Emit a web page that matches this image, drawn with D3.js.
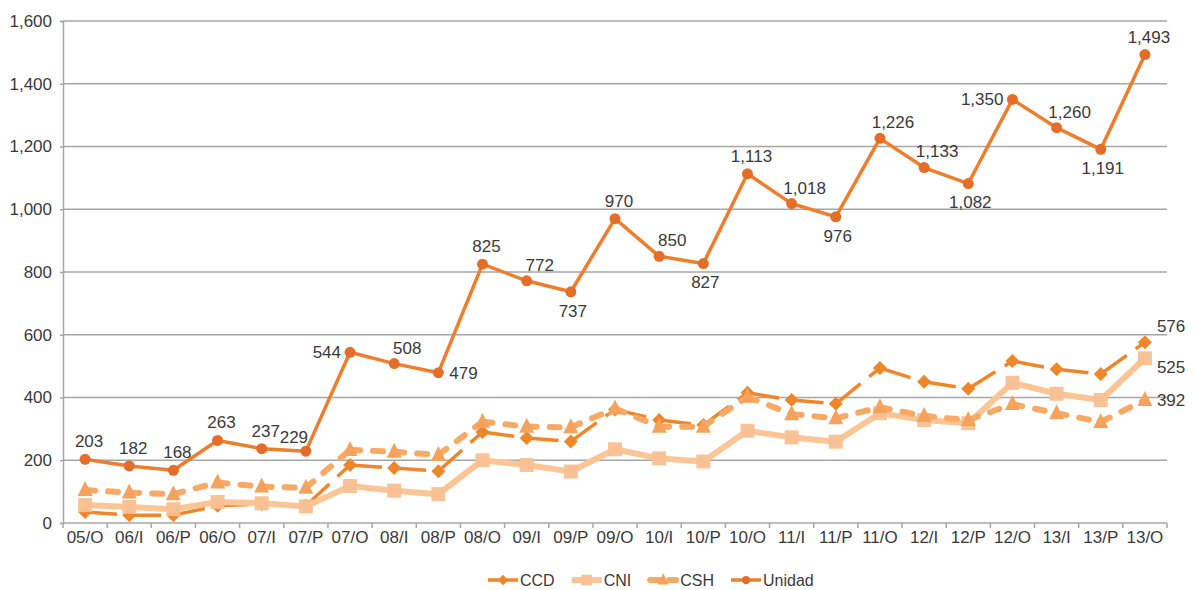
<!DOCTYPE html>
<html><head><meta charset="utf-8">
<script src="https://cdn.jsdelivr.net/npm/d3@7"></script>
<style>body{margin:0;background:#fff}svg{display:block}text{font-family:"Liberation Sans",Arial,sans-serif;fill:#3a3a3a}</style>
</head><body><svg id="c" width="1195" height="590"></svg>
<script>
const categories = ["05/O","06/I","06/P","06/O","07/I","07/P","07/O","08/I","08/P","08/O","09/I","09/P","09/O","10/I","10/P","10/O","11/I","11/P","11/O","12/I","12/P","12/O","13/I","13/P","13/O"];
const ccd    = [35,25,25,55,60,55,185,175,165,290,271,260,362,328,312,415,392,380,494,450,428,516,490,475,576];
const cni    = [57,51,44,67,63,53,118,103,92,200,185,164,235,206,196,294,273,259,350,328,318,447,412,392,525];
const csh    = [105,97,92,129,116,112,233,227,217,323,307,305,365,307,307,402,347,334,369,341,328,379,350,322,392];
const unidad = [203,182,168,263,237,229,544,508,479,825,772,737,970,850,827,1113,1018,976,1226,1133,1082,1350,1260,1191,1493];
const unidadLabelPlace = ["t","t","t","t","t","tl","l","tr","r","t","tr","b","t","tr","b","t","tr","b","tr","tr","b","l","tr","b","t"];
const yTicks = [0,200,400,600,800,1000,1200,1400,1600];
const seriesNames = ["CCD","CNI","CSH","Unidad"];

const svg = d3.select("#c");
const L = 63, R = 1167, T = 21, B = 523;
const x = d3.scaleBand().domain(categories).range([L, R]).padding(0);
const cx = c => x(c) + x.bandwidth() / 2;
const y = d3.scaleLinear().domain([0, 1600]).range([B, T]);
const fmt = d3.format(",");

// gridlines
svg.append("g").selectAll("line").data(yTicks.filter(d => d > 0)).join("line")
  .attr("x1", L).attr("x2", R).attr("y1", d => y(d)).attr("y2", d => y(d))
  .attr("stroke", "#a6a6a6").attr("stroke-width", 1.5);

// y axis
const yAxis = svg.append("g").attr("transform", `translate(${L},0)`)
  .call(d3.axisLeft(y).tickValues(yTicks).tickFormat(fmt).tickSize(3).tickPadding(8));
yAxis.select(".domain").attr("stroke", "#a6a6a6").attr("stroke-width", 1.5);
yAxis.selectAll(".tick line").attr("stroke", "#a6a6a6").attr("stroke-width", 1.5);
yAxis.selectAll("text").style("font-size", "17px").attr("fill", "#3a3a3a");

// x axis
svg.append("line").attr("x1", L).attr("x2", R).attr("y1", B).attr("y2", B).attr("stroke", "#a6a6a6").attr("stroke-width", 1.5);
const bounds = categories.map(c => x(c)).concat([R]);
svg.append("g").selectAll("line").data(bounds).join("line")
  .attr("x1", d => d).attr("x2", d => d).attr("y1", B).attr("y2", B + 5)
  .attr("stroke", "#a6a6a6").attr("stroke-width", 1.5);
svg.append("g").selectAll("text").data(categories).join("text")
  .attr("x", d => cx(d)).attr("y", 537).attr("dy", "0.35em").attr("text-anchor", "middle")
  .style("font-size", "17px").text(d => d);

const styles = {
  CCD:   {data: ccd, color: "#f0862a", width: 3.5, dash: "32,11", cap: "butt", marker: "diamond"},
  CNI:   {data: cni, color: "#fbc595", width: 6, dash: null, cap: "butt", marker: "square"},
  CSH:   {data: csh, color: "#f6aa66", width: 6, dash: "10,13", cap: "round", marker: "triangle"},
  Unidad:{data: unidad, color: "#ee7d2c", width: 3.5, dash: null, cap: "butt", marker: "circle"}
};
const markerColor = {CCD: "#f0862a", CNI: "#f9c092", CSH: "#f5a25c", Unidad: "#e56d2a"};

function drawMarker(g, type, px, py, color) {
  if (type === "circle") g.append("circle").attr("cx", px).attr("cy", py).attr("r", 5.5).attr("fill", color);
  else if (type === "square") g.append("rect").attr("x", px - 7).attr("y", py - 7).attr("width", 14).attr("height", 14).attr("fill", color).attr("opacity", 0.95);
  else if (type === "diamond") g.append("path").attr("d", `M${px},${py-7}L${px+7},${py}L${px},${py+7}L${px-7},${py}Z`).attr("fill", color);
  else if (type === "triangle") g.append("path").attr("d", `M${px},${py-9}L${px+7.5},${py+6}L${px-7.5},${py+6}Z`).attr("fill", color);
}

seriesNames.forEach(name => {
  const s = styles[name];
  const g = svg.append("g");
  const pts = s.data.map((v, i) => [cx(categories[i]), y(v)]);
  if (s.dash) {
    for (let i = 0; i < pts.length - 1; i++) {
      g.append("path").attr("d", d3.line()([pts[i], pts[i+1]]))
        .attr("fill", "none").attr("stroke", s.color).attr("stroke-width", s.width)
        .attr("stroke-dasharray", s.dash).attr("stroke-linecap", s.cap);
    }
  } else {
    g.append("path").attr("d", d3.line()(pts)).attr("fill", "none")
      .attr("stroke", s.color).attr("stroke-width", s.width).attr("stroke-linejoin", "round");
  }
  pts.forEach(p => drawMarker(g, s.marker, p[0], p[1], markerColor[name]));
});

// Unidad labels
const place = {
  t:  {dx: 4,  dy: -18, a: "middle"},
  tr: {dx: 13, dy: -16, a: "middle"},
  tl: {dx: -12,dy: -14, a: "middle"},
  b:  {dx: 2,  dy: 19,  a: "middle"},
  l:  {dx: -9, dy: 0,   a: "end"},
  r:  {dx: 11, dy: 0,   a: "start"}
};
svg.append("g").selectAll("text").data(unidad).join("text")
  .attr("x", (d, i) => cx(categories[i]) + place[unidadLabelPlace[i]].dx)
  .attr("y", (d, i) => y(d) + place[unidadLabelPlace[i]].dy)
  .attr("dy", "0.35em").attr("text-anchor", (d, i) => place[unidadLabelPlace[i]].a)
  .style("font-size", "17px").text(d => fmt(d));

// end labels for other series
const last = categories.length - 1;
[[ccd, -16], [cni, 9], [csh, 0]].forEach(([arr, off]) => {
  svg.append("text").attr("x", cx(categories[last]) + 12).attr("y", y(arr[last]) + off)
    .attr("dy", "0.35em").attr("text-anchor", "start").style("font-size", "17px").text(fmt(arr[last]));
});

// legend
const lg = svg.append("g");
let lx = 488;
const ly = 580;
seriesNames.forEach(name => {
  const s = styles[name];
  if (name === "CSH") {
    lg.append("line").attr("x1", lx + 2).attr("x2", lx + 11).attr("y1", ly).attr("y2", ly).attr("stroke", s.color).attr("stroke-width", s.width).attr("stroke-linecap", "round");
    lg.append("line").attr("x1", lx + 21).attr("x2", lx + 28).attr("y1", ly).attr("y2", ly).attr("stroke", s.color).attr("stroke-width", s.width).attr("stroke-linecap", "round");
  } else {
    lg.append("line").attr("x1", lx).attr("x2", lx + 30).attr("y1", ly).attr("y2", ly).attr("stroke", s.color).attr("stroke-width", s.width);
  }
  const mg = lg.append("g");
  drawMarker(mg, s.marker, lx + 15, ly, markerColor[name]);
  mg.attr("transform", `translate(${lx+15},${ly}) scale(0.75) translate(${-(lx+15)},${-ly})`);
  const t = lg.append("text").attr("x", lx + 32).attr("y", ly).attr("dy", "0.35em").style("font-size", "16px").text(name);
  lx += 32 + t.node().getComputedTextLength() + 17;
});
</script></body></html>
